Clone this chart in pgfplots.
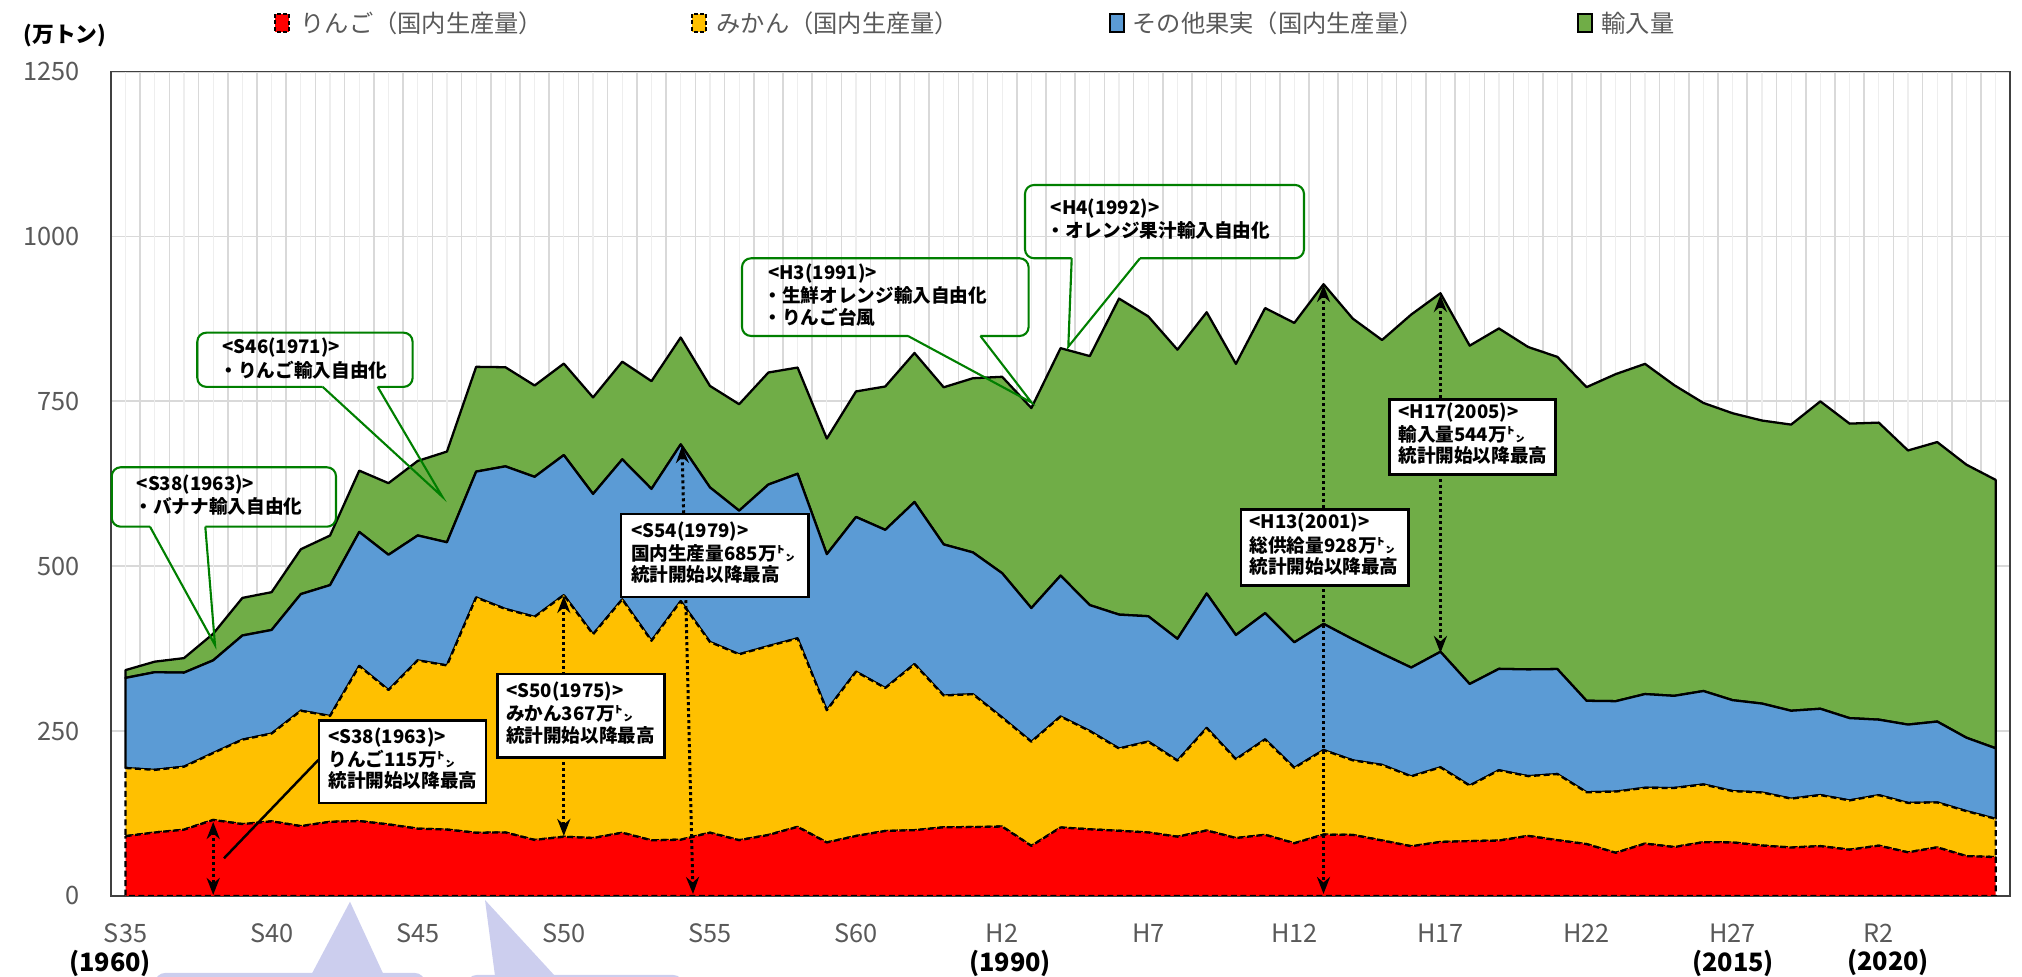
\documentclass[border=0pt]{standalone}
\usepackage{fontspec}
\setmainfont{Noto Sans CJK JP}
\usepackage{pgfplots}
\usepackage{pgfplotstable}
\pgfplotsset{compat=1.18}
\usetikzlibrary{arrows.meta}
\definecolor{cred}{HTML}{FF0000}
\definecolor{cyel}{HTML}{FFC000}
\definecolor{cblue}{HTML}{5B9BD5}
\definecolor{cgreen}{HTML}{70AD47}
\definecolor{cg}{HTML}{007F00}
\definecolor{tgray}{HTML}{595959}
\definecolor{gridA}{HTML}{D9D9D9}
\definecolor{gridB}{HTML}{EEEEEE}
\definecolor{lav}{RGB}{204,206,238}

\pgfplotstableread{
year apple mikan other import
1960 90.7 103.4 136.6 11.8
1961 96.3 94.9 148.1 16.0
1962 100.5 95.5 142.7 22.0
1963 115.3 101.5 140.5 40.3
1964 109.0 128.0 158.0 57.0
1965 113.2 133.1 157.1 57.3
1966 105.9 175.0 176.9 68.0
1967 112.5 160.5 198.4 75.2
1968 113.6 235.2 203.2 93.0
1969 108.5 203.8 205.1 108.6
1970 102.1 255.2 189.4 113.0
1971 100.7 248.9 186.8 137.5
1972 95.9 356.8 190.8 158.9
1973 96.3 338.9 216.3 150.3
1974 85.0 338.3 212.3 138.5
1975 89.8 366.5 212.3 138.7
1976 87.9 308.9 212.8 146.4
1977 95.9 353.9 212.3 148.1
1978 84.4 302.6 230.3 163.4
1979 85.3 361.8 237.7 162.1
1980 96.0 289.2 234.4 153.9
1981 84.6 281.9 217.8 161.4
1982 92.5 286.4 245.0 169.9
1983 104.8 285.9 249.5 161.1
1984 81.2 200.5 236.6 175.3
1985 91.0 249.1 234.6 190.4
1986 98.6 216.8 239.8 217.4
1987 99.8 251.8 245.8 226.0
1988 104.2 199.8 229.1 238.3
1989 104.5 201.5 215.0 264.1
1990 105.3 165.3 218.9 297.8
1991 76.0 157.9 202.7 303.3
1992 103.9 168.3 213.6 344.9
1993 101.1 149.0 191.0 377.6
1994 98.9 124.7 203.1 479.2
1995 96.3 137.8 190.1 454.7
1996 89.9 115.3 184.8 438.4
1997 99.3 155.5 203.9 426.5
1998 87.9 119.4 188.4 411.2
1999 92.8 144.7 191.4 462.6
2000 80.0 114.3 190.4 484.3
2001 93.1 128.2 191.3 515.1
2002 92.6 113.1 183.6 486.2
2003 84.2 114.6 168.6 475.7
2004 75.4 106.0 165.0 535.3
2005 81.9 113.2 175.2 543.7
2006 83.2 84.2 154.1 513.0
2007 84.0 106.6 153.8 516.2
2008 91.1 90.6 161.9 488.9
2009 84.6 100.3 159.2 473.4
2010 78.7 78.6 138.7 475.6
2011 65.5 92.8 137.1 496.0
2012 79.4 84.6 142.2 500.7
2013 74.2 89.6 139.7 471.1
2014 81.6 87.5 141.7 436.8
2015 81.2 77.8 137.9 435.1
2016 76.5 80.5 134.8 429.2
2017 73.5 74.1 133.3 433.9
2018 75.6 77.4 130.9 466.1
2019 70.2 74.7 124.8 446.6
2020 76.3 76.6 114.5 450.4
2021 66.2 74.9 118.8 415.7
2022 73.7 68.2 122.6 423.8
2023 60.4 68.2 111.4 414.0
2024 59.0 58.0 107.0 407.0
}\fruit

\newcommand{\annfont}{\bfseries\fontsize{5.3}{6.1}\selectfont}
\newcommand{\tl}[3]{\node[anchor=west,inner sep=0pt,font=\annfont] at (#1,#2) {#3};}
\newcommand{\gcallout}[7]{% L T R B b1 b2 tip
  \draw[cg,line width=0.6pt,rounded corners=0.9mm] (#6,#4) -- (#3,#4) -- (#3,#2) -- (#1,#2) -- (#1,#4) -- (#5,#4);
  \draw[cg,line width=0.6pt,line join=miter] (#5,#4) -- #7 -- (#6,#4);}

\begin{document}
\begin{tikzpicture}
\useasboundingbox (0,0) rectangle (202.2mm,97.7mm);
\begin{axis}[
  at={(11.09mm,8.1mm)}, anchor=south west,
  scale only axis, width=189.94mm, height=82.43mm,
  xmin=1959.5, xmax=2024.5, ymin=0, ymax=1250,
  stack plots=y, no markers,
  axis line style={black!75, line width=0.45pt},
  ytick={0,250,500,750,1000,1250},
  ymajorgrids, major grid style={gridA, line width=0.55pt},
  xtick={1960,1965,...,2020},
  xticklabels={S35,S40,S45,S50,S55,S60,H2,H7,H12,H17,H22,H27,R2},
  minor xtick={1959.5,1960.5,...,2024.5},
  xminorgrids, minor grid style={gridA, line width=0.45pt},
  extra x ticks={1960,1961,...,2024},
  extra x tick labels={},
  extra x tick style={grid=major, major grid style={gridB, line width=0.35pt}},
  tick style={draw=none},
  every tick label/.append style={font=\fontsize{7.2}{8}\selectfont, text=tgray},
  yticklabel style={anchor=east, inner sep=0pt, xshift=-3.1mm},
  xticklabel style={anchor=center, inner sep=0pt, yshift=-3.7mm},
  /pgf/number format/assume math mode=true,
  /pgf/number format/1000 sep={},
]
\addplot[fill=cred, draw=black, line width=0.65pt, dash pattern=on 0.6mm off 0.35mm, line join=round] table[x=year,y=apple]{\fruit} \closedcycle;
\addplot[fill=cyel, draw=black, line width=0.65pt, dash pattern=on 0.6mm off 0.35mm, line join=round] table[x=year,y=mikan]{\fruit} \closedcycle;
\addplot[fill=cblue, draw=black, line width=0.65pt, line join=round] table[x=year,y=other]{\fruit} \closedcycle;
\addplot[fill=cgreen, draw=black, line width=0.65pt, line join=round] table[x=year,y=import]{\fruit} \closedcycle;
\end{axis}

\begin{scope}[x=0.1mm,y=-0.1mm,yshift=97.7mm]
% unit label
\node[font=\bfseries\fontsize{6.2}{7}\selectfont] at (65,36) {(万トン)};
% legend
\filldraw[fill=cred,draw=black,line width=0.4pt,dash pattern=on 0.4mm off 0.25mm] (275,14) rectangle (289,32);
\node[anchor=west,inner sep=0pt,text=tgray,font=\fontsize{6.9}{8}\selectfont] at (300,23) {りんご（国内生産量）};
\filldraw[fill=cyel,draw=black,line width=0.4pt,dash pattern=on 0.4mm off 0.25mm] (692,14) rectangle (706,32);
\node[anchor=west,inner sep=0pt,text=tgray,font=\fontsize{6.9}{8}\selectfont] at (716,23) {みかん（国内生産量）};
\filldraw[fill=cblue,draw=black,line width=0.4pt] (1110,14) rectangle (1124,32);
\node[anchor=west,inner sep=0pt,text=tgray,font=\fontsize{6.9}{8}\selectfont] at (1132,23) {その他果実（国内生産量）};
\filldraw[fill=cgreen,draw=black,line width=0.4pt] (1578,14) rectangle (1592,32);
\node[anchor=west,inner sep=0pt,text=tgray,font=\fontsize{6.9}{8}\selectfont] at (1601,23) {輸入量};
% year labels
\node[font=\bfseries\fontsize{7.2}{8}\selectfont] at (110,963) {(1960)};
\node[font=\bfseries\fontsize{7.2}{8}\selectfont] at (1010,963) {(1990)};
\node[font=\bfseries\fontsize{7.2}{8}\selectfont] at (1733,963) {(2015)};
\node[font=\bfseries\fontsize{7.2}{8}\selectfont] at (1888,962) {(2020)};
% lavender shapes at bottom (cut)
\fill[lav,rounded corners=1mm] (155,973) rectangle (425,1015);
\fill[lav] (311.7,974) -- (350,901.7) -- (383.3,974) -- cycle;
\fill[lav,rounded corners=1mm] (466.7,975) rectangle (683.3,1015);
\fill[lav] (495,976) -- (485,900) -- (555,976) -- cycle;
% dotted arrows
\begin{scope}[line width=0.85pt, dash pattern=on 0.3mm off 0.3mm]
\draw[{Stealth[length=1.7mm,width=1.3mm]}-{Stealth[length=1.7mm,width=1.3mm]}] (213.2,822) -- (213.2,895);
\draw[{Stealth[length=1.7mm,width=1.3mm]}-{Stealth[length=1.7mm,width=1.3mm]}] (563.8,596) -- (563.8,836);
\draw[{Stealth[length=1.7mm,width=1.3mm]}-{Stealth[length=1.7mm,width=1.3mm]}] (682,446) -- (693,894);
\draw[{Stealth[length=1.7mm,width=1.3mm]}-{Stealth[length=1.7mm,width=1.3mm]}] (1323.5,285) -- (1323.5,894);
\draw[{Stealth[length=1.7mm,width=1.3mm]}-{Stealth[length=1.7mm,width=1.3mm]}] (1440.4,295) -- (1440.4,653);
\end{scope}
% connector for apple box
\draw[line width=0.7pt] (318.3,760) -- (224,858.3);
% black boxes
\filldraw[fill=white,draw=black,line width=0.75pt] (319,720.7) rectangle (486,803);
\tl{327.7}{737.3}{<S38(1963)>}\tl{327.7}{759}{りんご115万㌧}\tl{327.7}{780}{統計開始以降最高}
\filldraw[fill=white,draw=black,line width=0.75pt] (497.5,674) rectangle (664.5,757.5);
\tl{505.4}{691.7}{<S50(1975)>}\tl{505.4}{713.3}{みかん367万㌧}\tl{505.4}{735}{統計開始以降最高}
\filldraw[fill=white,draw=black,line width=0.75pt] (621,514) rectangle (808.5,597);
\tl{630.4}{531.7}{<S54(1979)>}\tl{630.4}{553.3}{国内生産量685万㌧}\tl{630.4}{574.3}{統計開始以降最高}
\filldraw[fill=white,draw=black,line width=0.75pt] (1241,509.3) rectangle (1408.2,585.5);
\tl{1248.8}{522.7}{<H13(2001)>}\tl{1248.8}{545}{総供給量928万㌧}\tl{1248.8}{566.4}{統計開始以降最高}
\filldraw[fill=white,draw=black,line width=0.75pt] (1389.5,399.5) rectangle (1555.5,474.5);
\tl{1397.7}{412.9}{<H17(2005)>}\tl{1397.7}{434.7}{輸入量544万㌧}\tl{1397.7}{455.7}{統計開始以降最高}
% green callouts
\gcallout{111.7}{467.3}{336}{526.7}{150}{205.3}{(215,645)}
\tl{136}{485}{<S38(1963)>}\tl{134}{506.7}{・バナナ輸入自由化}
\gcallout{197.3}{332.7}{412.6}{386.9}{322.7}{377.7}{(442.3,496.7)}
\tl{221.8}{348}{<S46(1971)>}\tl{219}{370}{・りんご輸入自由化}
\gcallout{742}{258.3}{1028.6}{336}{908}{980.4}{(1031.7,402.7)}
\tl{767.4}{273.3}{<H3(1991)>}\tl{763}{295}{・生鮮オレンジ輸入自由化}\tl{763}{317}{・りんご台風}
\gcallout{1025}{185}{1304}{258.3}{1071.7}{1140}{(1068.3,346.7)}
\tl{1050}{208.3}{<H4(1992)>}\tl{1046}{230.7}{・オレンジ果汁輸入自由化}
\end{scope}
\end{tikzpicture}
\end{document}
